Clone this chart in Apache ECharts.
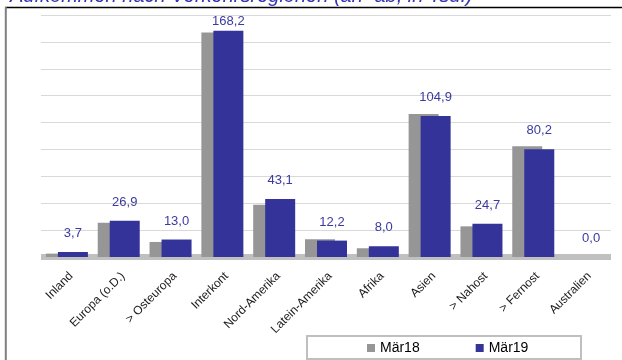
<!DOCTYPE html>
<html>
<head>
<meta charset="utf-8">
<script src="https://cdn.jsdelivr.net/npm/echarts@6/dist/echarts.min.js"></script>
<style>
html, body { margin: 0; padding: 0; background: #fff; }
#main { width: 622px; height: 360px; }
</style>
</head>
<body>
<div id="main"></div>
<script>
// Verkehrsregionen
var categories = ['Inland', 'Europa (o.D.)', '> Osteuropa', 'Interkont', 'Nord-Amerika',
	'Latein-Amerika', 'Afrika', 'Asien', '> Nahost', '> Fernost', 'Australien'];
var seriesNames = ['Mär18', 'Mär19'];
var valuesMar18 = [2.5, 25.5, 11.2, 167.0, 38.9, 13.2, 6.5, 106.3, 22.8, 82.3, 0.0];
var valuesMar19 = [3.7, 26.9, 13.0, 168.2, 43.1, 12.2, 8.0, 104.9, 24.7, 80.2, 0.0];
var yTicks = { min: 0, max: 180, interval: 20 };

var myChart = echarts.init(document.getElementById('main'));

var blueData = valuesMar19.map(function (v) {
	// Excel hat das oberste Label naeher an den Balken geschoben
	if (v > 160) {
		return { value: v, label: { distance: 3 } };
	}
	return v;
});

var option = {
	animation: false,
	backgroundColor: '#ffffff',
	textStyle: { fontFamily: 'Liberation Sans, Arial, sans-serif' },
	graphic: [
		{
			type: 'text',
			left: 10,
			top: -14,
			style: {
				text: 'Aufkommen nach Verkehrsregionen (an+ab, in Tsd.)',
				font: 'italic 20px "Liberation Sans", Arial, sans-serif',
				fill: '#3333b3'
			}
		},
		{
			type: 'line',
			shape: { x1: 5, y1: 7.5, x2: 622, y2: 7.5 },
			style: { stroke: '#000000', lineWidth: 1.3 }
		},
		{
			type: 'line',
			shape: { x1: 5.8, y1: 7, x2: 5.8, y2: 360 },
			style: { stroke: '#7f7f7f', lineWidth: 2 }
		},
		{
			type: 'rect',
			shape: { x: 307, y: 336, width: 274, height: 23 },
			style: { fill: 'none', stroke: '#bfbfbf', lineWidth: 2 }
		}
	],
	legend: {
		data: seriesNames,
		left: 367,
		top: 341,
		padding: 0,
		itemWidth: 8,
		itemHeight: 8,
		itemGap: 56,
		icon: 'rect',
		textStyle: { fontSize: 14, color: '#000' }
	},
	grid: {
		left: 41,
		right: 11,
		top: 15,
		bottom: 103
	},
	xAxis: {
		type: 'category',
		data: categories,
		offset: 3,
		axisLine: { lineStyle: { color: '#c0c0c0', width: 6, cap: 'butt' } },
		axisTick: { show: false },
		axisLabel: {
			rotate: 45,
			margin: 10,
			verticalAlign: 'top',
			fontSize: 12,
			color: '#1a1a1a',
			interval: 0
		},
		splitLine: { show: false }
	},
	yAxis: {
		type: 'value',
		min: yTicks.min,
		max: yTicks.max,
		interval: yTicks.interval,
		axisLabel: { show: false },
		axisLine: { show: false },
		axisTick: { show: false },
		splitLine: { lineStyle: { color: '#d9d9d9', width: 1 } }
	},
	series: [
		{
			name: seriesNames[0],
			type: 'bar',
			barWidth: 30,
			barGap: '-60%',
			itemStyle: { color: '#969696' },
			data: valuesMar18
		},
		{
			name: seriesNames[1],
			type: 'bar',
			barWidth: 30,
			barGap: '-60%',
			itemStyle: { color: '#333399' },
			label: {
				show: true,
				position: 'top',
				distance: 12,
				fontSize: 13,
				color: '#3a3aa0',
				formatter: function (p) {
					return p.value.toFixed(1).replace('.', ',');
				}
			},
			data: blueData
		}
	]
};
myChart.clear();
myChart.setOption(option);
</script>
</body>
</html>
